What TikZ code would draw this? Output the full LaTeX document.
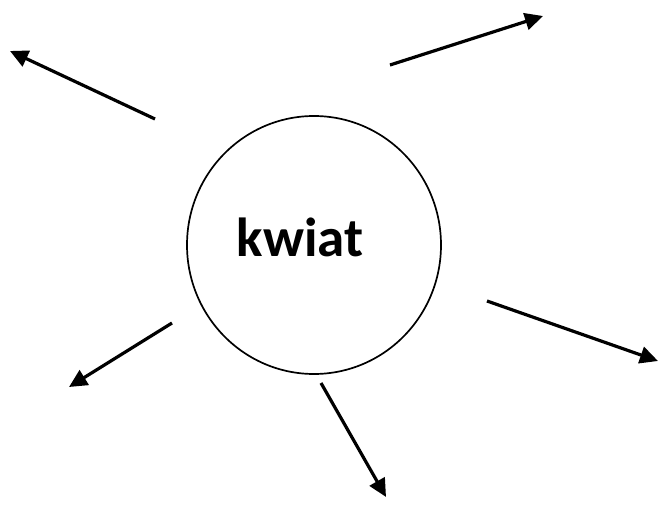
\documentclass[tikz,border=0pt]{standalone}
\usepackage{fontspec}
\setmainfont{Carlito}
\usetikzlibrary{positioning, arrows.meta, shapes.geometric}
\tikzset{
  BUB/.style={draw, ellipse, line width=1.7pt, inner sep=0pt, minimum width=254pt, minimum height=258pt},
  WORD/.style={font=\fontsize{55}{60}\selectfont\bfseries, inner sep=0pt},
  AR/.style={-{Triangle[length=18pt, width=17pt]}, line width=3.2pt, black},
}

\begin{document}
\begin{tikzpicture}[x=1pt, y=1pt, yscale=-1]

\useasboundingbox (0,0) rectangle (658,526);

%% centre
\node[BUB] (flower) at (314,245) {};
\node[WORD, anchor=base] (kwiat) at (300,257) {kwiat};

%% arrow ends
\coordinate (tNW) at (155,119);  \coordinate (hNW) at (10,51);
\coordinate (tNE) at (390,65);   \coordinate (hNE) at (543,16);
\coordinate (tE)  at (487,301);  \coordinate (hE)  at (658,361);
\coordinate (tSW) at (172,323);  \coordinate (hSW) at (69,387);
\coordinate (tS)  at (321,383);  \coordinate (hS)  at (386,497);

\foreach \d in {NW,NE,E,SW,S}
  \draw[AR] (t\d) -- (h\d);

\end{tikzpicture}
\end{document}
